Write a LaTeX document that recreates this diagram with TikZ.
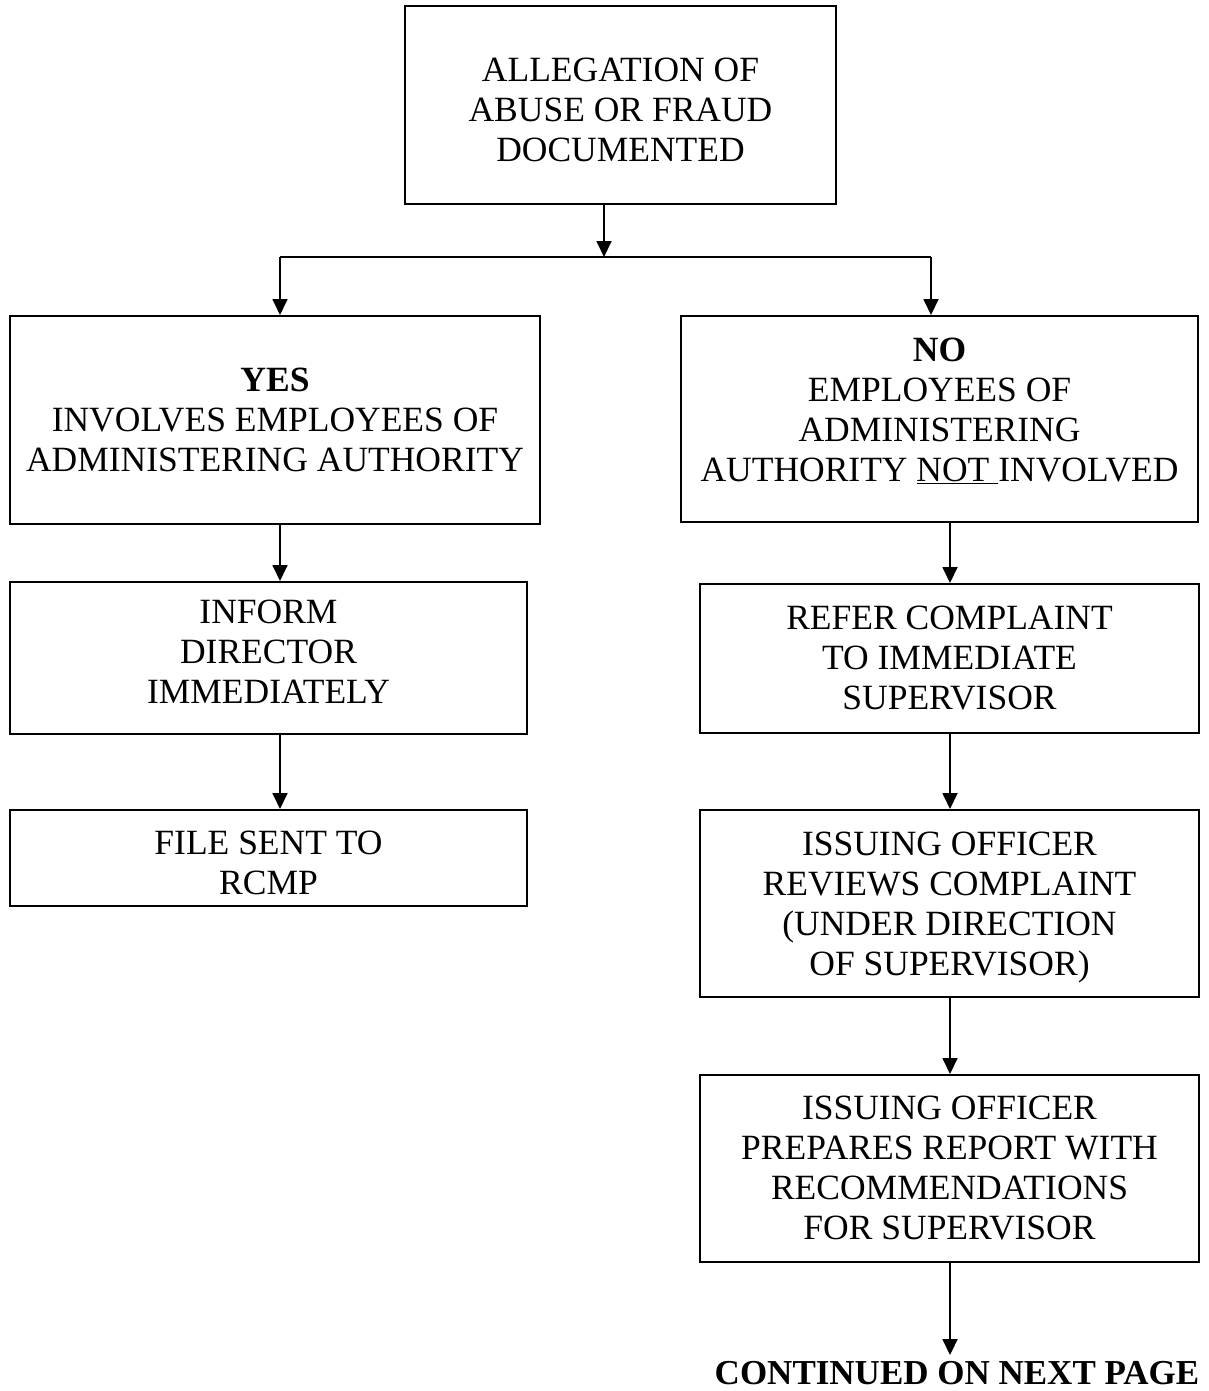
\documentclass[tikz,border=0pt]{standalone}
\usepackage{fontspec}
\setmainfont{Liberation Serif}
\usetikzlibrary{arrows.meta}
% invisible struts that move a box's text block down (padtop) or up (padfoot)
\newcommand\padtop[1]{\rule{0pt}{#1}}
\newcommand\padfoot[1]{\rule[-#1]{0pt}{0pt}}
\begin{document}
\begin{tikzpicture}[x=1pt,y=-1pt,
  box/.style={draw,line width=2pt,align=center,inner sep=0pt,
    font=\fontsize{35.5}{40}\selectfont},
  link/.style={line width=1.8pt,-{Triangle[width=15pt,length=16pt]}},
  rail/.style={line width=1.8pt}]
\useasboundingbox (0,0) rectangle (1208,1391);

% boxes
\node[box,minimum width=431pt,minimum height=198pt] (top) at (620.5,105)
  {\padtop{33pt}ALLEGATION OF\\ABUSE OR FRAUD\\DOCUMENTED};
\node[box,minimum width=530pt,minimum height=208pt] (yes) at (275,420)
  {\textbf{YES}\\INVOLVES EMPLOYEES OF\\ADMINISTERING AUTHORITY};
\node[box,minimum width=517pt,minimum height=206pt] (no) at (939.5,419)
  {\textbf{NO}\\EMPLOYEES OF\\ADMINISTERING\\AUTHORITY \underline{NOT\ }INVOLVED\padfoot{18pt}};
\node[box,minimum width=517pt,minimum height=152pt] (inform) at (268.5,658)
  {INFORM\\DIRECTOR\\IMMEDIATELY\padfoot{12pt}};
\node[box,minimum width=517pt,minimum height=96pt] (file) at (268.5,858)
  {\padtop{33pt}FILE SENT TO\\RCMP};
\node[box,minimum width=499pt,minimum height=149pt] (refer) at (949.5,658.5)
  {REFER COMPLAINT\\TO IMMEDIATE\\SUPERVISOR};
\node[box,minimum width=499pt,minimum height=187pt] (review) at (949.5,903.5)
  {\padtop{31pt}ISSUING OFFICER\\REVIEWS COMPLAINT\\(UNDER DIRECTION\\OF SUPERVISOR)};
\node[box,minimum width=499pt,minimum height=187pt] (report) at (949.5,1168.5)
  {ISSUING OFFICER\\PREPARES REPORT WITH\\RECOMMENDATIONS\\FOR SUPERVISOR};
\node[inner sep=0pt,font=\fontsize{35}{40}\selectfont\bfseries] (cont) at (957,1373)
  {CONTINUED ON NEXT PAGE};

% fork below the first box
\coordinate (fork) at (604,257);
\coordinate (forkL) at (280,257);
\coordinate (forkR) at (931,257);
\coordinate (colR) at (950,0);
\draw[link] (top.south -| fork) -- (fork);
\draw[rail] (forkL) -- (forkR);
\draw[link] (forkL) -- (forkL |- yes.north);
\draw[link] (forkR) -- (forkR |- no.north);

% left column
\draw[link] (yes.south -| forkL) -- (inform.north -| forkL);
\draw[link] (inform.south -| forkL) -- (file.north -| forkL);

% right column
\draw[link] (no.south -| colR) -- (refer.north -| colR);
\draw[link] (refer.south -| colR) -- (review.north -| colR);
\draw[link] (review.south -| colR) -- (report.north -| colR);
\draw[link] (report.south -| colR) -- ([yshift=6pt]cont.north -| colR);
\end{tikzpicture}
\end{document}
